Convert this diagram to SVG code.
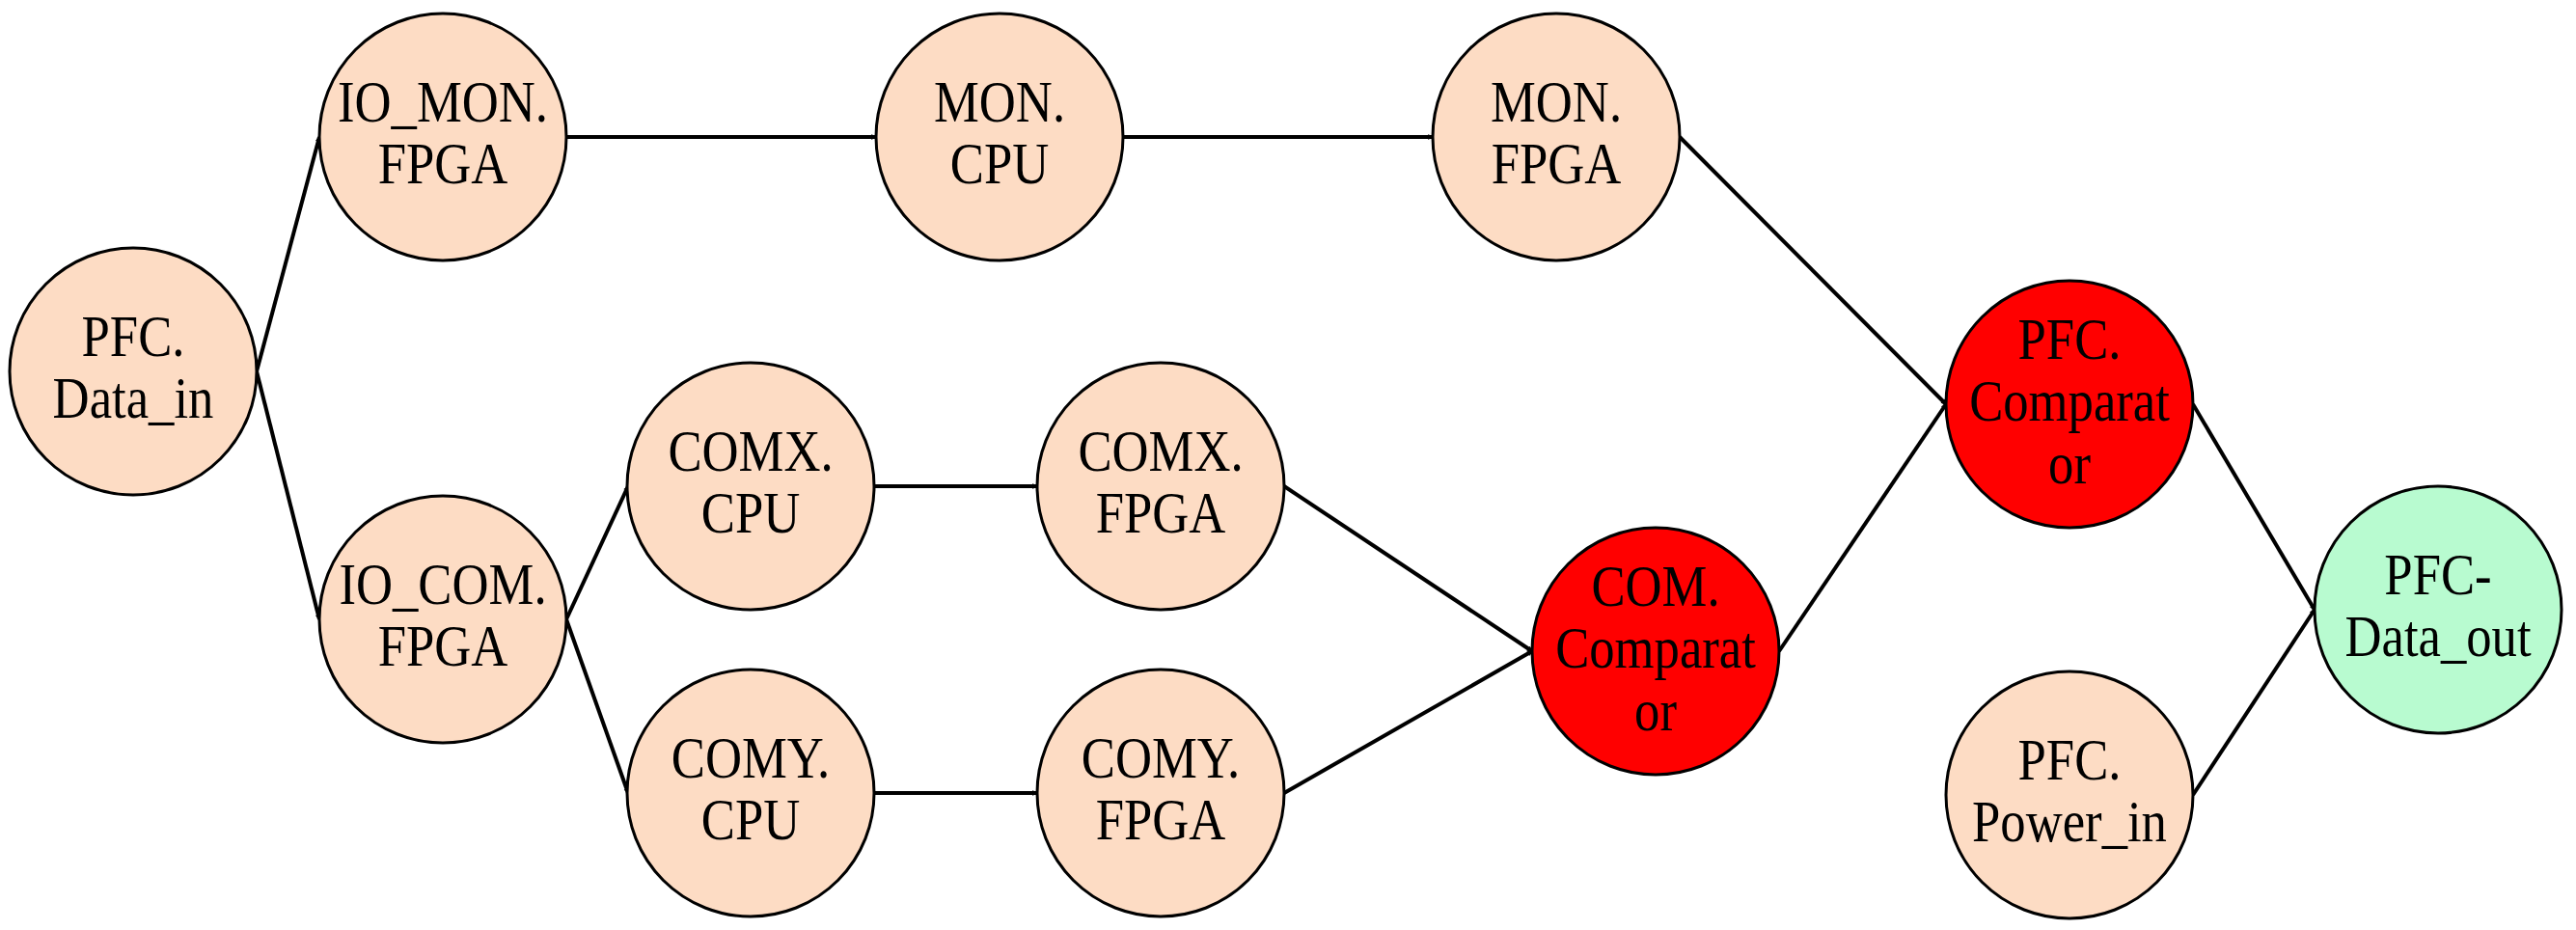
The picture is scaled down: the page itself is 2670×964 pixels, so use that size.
<svg xmlns="http://www.w3.org/2000/svg" width="2670" height="964" viewBox="0 0 2670 964">
<style>
.n{stroke:#000;stroke-width:3}
.p{fill:#fddcc4}.r{fill:#ff0000}.g{fill:#b8fbd0}
text{font-family:"Liberation Serif","Times New Roman",serif;font-size:62px;text-anchor:middle;fill:#000}
.e line{stroke:#000;stroke-width:4;marker-end:url(#a)}
</style>
<defs><marker id="a" viewBox="0 0 20 20" refX="18" refY="10" markerWidth="6" markerHeight="6" orient="auto" markerUnits="userSpaceOnUse" style="overflow:visible"><path d="M2,2 L18,10 L2,18" fill="none" stroke="#000" stroke-width="3.5"/></marker></defs>
<g class="e">
<line x1="266" y1="385" x2="331" y2="142"/>
<line x1="266" y1="385" x2="331" y2="642"/>
<line x1="587" y1="142" x2="908" y2="142"/>
<line x1="1164" y1="142" x2="1485" y2="142"/>
<line x1="587" y1="642" x2="651" y2="504"/>
<line x1="587" y1="642" x2="651" y2="822"/>
<line x1="906" y1="504" x2="1075" y2="504"/>
<line x1="906" y1="822" x2="1075" y2="822"/>
<line x1="1331" y1="504" x2="1588" y2="675"/>
<line x1="1331" y1="822" x2="1588" y2="675"/>
<line x1="1741" y1="142" x2="2017" y2="419"/>
<line x1="1844" y1="675" x2="2017" y2="419"/>
<line x1="2273" y1="419" x2="2399" y2="632"/>
<line x1="2273" y1="824" x2="2399" y2="632"/>
</g>
<g id="data_in" transform="translate(138,385)"><circle class="n p" r="128"/><g transform="scale(0.85,1)"><text y="-16">PFC.</text><text y="48">Data_in</text></g></g>
<g id="io_mon" transform="translate(459,142)"><circle class="n p" r="128"/><g transform="scale(0.85,1)"><text y="-16">IO_MON.</text><text y="48">FPGA</text></g></g>
<g id="mon_cpu" transform="translate(1036,142)"><circle class="n p" r="128"/><g transform="scale(0.85,1)"><text y="-16">MON.</text><text y="48">CPU</text></g></g>
<g id="mon_fpga" transform="translate(1613,142)"><circle class="n p" r="128"/><g transform="scale(0.85,1)"><text y="-16">MON.</text><text y="48">FPGA</text></g></g>
<g id="io_com" transform="translate(459,642)"><circle class="n p" r="128"/><g transform="scale(0.85,1)"><text y="-16">IO_COM.</text><text y="48">FPGA</text></g></g>
<g id="comx_cpu" transform="translate(778,504)"><circle class="n p" r="128"/><g transform="scale(0.85,1)"><text y="-16">COMX.</text><text y="48">CPU</text></g></g>
<g id="comx_fpga" transform="translate(1203,504)"><circle class="n p" r="128"/><g transform="scale(0.85,1)"><text y="-16">COMX.</text><text y="48">FPGA</text></g></g>
<g id="comy_cpu" transform="translate(778,822)"><circle class="n p" r="128"/><g transform="scale(0.85,1)"><text y="-16">COMY.</text><text y="48">CPU</text></g></g>
<g id="comy_fpga" transform="translate(1203,822)"><circle class="n p" r="128"/><g transform="scale(0.85,1)"><text y="-16">COMY.</text><text y="48">FPGA</text></g></g>
<g id="com_comp" transform="translate(1716,675)"><circle class="n r" r="128"/><g transform="scale(0.85,1)"><text y="-47">COM.</text><text y="17">Comparat</text><text y="82">or</text></g></g>
<g id="pfc_comp" transform="translate(2145,419)"><circle class="n r" r="128"/><g transform="scale(0.85,1)"><text y="-47">PFC.</text><text y="17">Comparat</text><text y="82">or</text></g></g>
<g id="power_in" transform="translate(2145,824)"><circle class="n p" r="128"/><g transform="scale(0.85,1)"><text y="-16">PFC.</text><text y="48">Power_in</text></g></g>
<g id="data_out" transform="translate(2527,632)"><circle class="n g" r="128"/><g transform="scale(0.85,1)"><text y="-16">PFC-</text><text y="48">Data_out</text></g></g>
</svg>
